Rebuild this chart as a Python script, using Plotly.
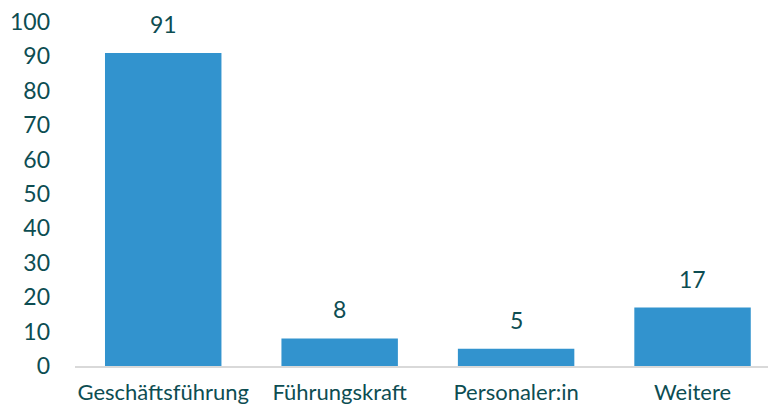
import plotly.graph_objects as go

categories = ["Geschäftsführung", "Führungskraft", "Personaler:in", "Weitere"]
values = [91, 8, 5, 17]
y_ticks = [0, 10, 20, 30, 40, 50, 60, 70, 80, 90, 100]

teal = "#0D4D52"
bar_color = "#3293CE"
font_family = "Lato, 'Open Sans', sans-serif"

fig = go.Figure()
fig.add_trace(go.Bar(x=list(range(len(categories))), y=values, marker=dict(color=bar_color, line=dict(width=0)), width=0.66))

for i, v in enumerate(values):
    fig.add_annotation(x=i, y=v, text=str(v), showarrow=False, yanchor="bottom", yshift=13,
                       font=dict(size=23, color=teal, family=font_family))

fig.update_layout(
    width=768, height=399,
    margin=dict(l=67, r=0, t=14, b=41, autoexpand=False),
    paper_bgcolor="white", plot_bgcolor="white",
    showlegend=False,
    font=dict(family=font_family, color=teal),
    xaxis=dict(tickmode="array", tickvals=list(range(len(categories))), ticktext=categories,
               range=[-0.5, 3.473], showgrid=False, zeroline=False,
               showline=True, linecolor="#D9D9D9", linewidth=2, automargin=False,
               ticks="", ticklabelstandoff=6, tickfont=dict(size=22, color=teal),
               ticklabeloverflow="allow"),
    yaxis=dict(range=[0, 100], tickmode="array", tickvals=y_ticks, ticktext=[str(t) for t in y_ticks],
               showgrid=False, zeroline=False, showline=False, automargin=False,
               ticks="", ticklabelstandoff=24, tickfont=dict(size=23, color=teal),
               ticklabeloverflow="allow"),
)
fig.write_html("out.html")
